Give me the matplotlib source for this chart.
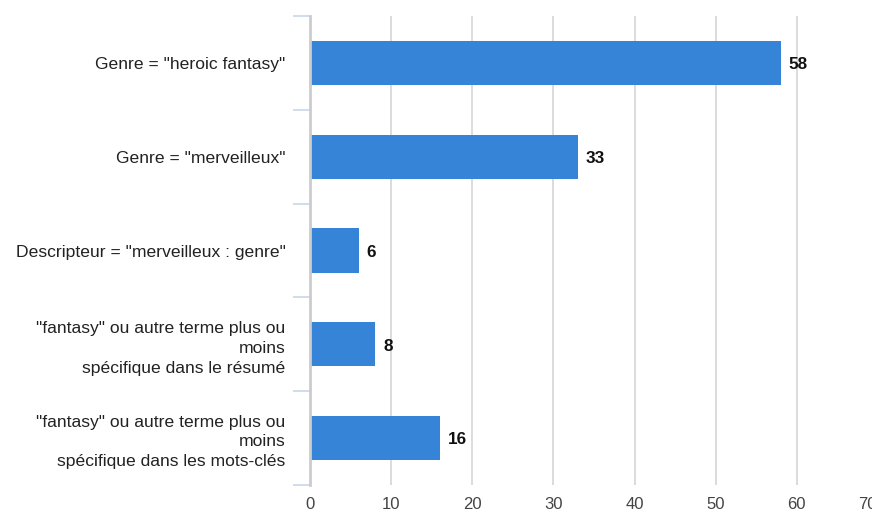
import numpy as np
import matplotlib.pyplot as plt
from matplotlib.transforms import ScaledTranslation

plt.rcParams['font.family'] = ['Liberation Sans', 'DejaVu Sans']

# Data
categories = ['Genre = "heroic fantasy"',
              'Genre = "merveilleux"',
              'Descripteur = "merveilleux : genre"',
              '"fantasy" ou autre terme plus ou\nmoins\nspécifique dans le résumé',
              '"fantasy" ou autre terme plus ou\nmoins\nspécifique dans les mots-clés']
values = [58, 33, 6, 8, 16]
x_ticks = [0, 10, 20, 30, 40, 50, 60, 70]

bar_color = '#3584d8'

fig = plt.figure(figsize=(8.72, 5.13), dpi=100)
ax = fig.add_axes([310 / 872, 1 - 485 / 513, 568 / 872, 469 / 513])

y = np.arange(len(categories))
ax.barh(y, values, height=0.47, color=bar_color, zorder=3)

for yi, v in zip(y, values):
    ax.text(v + 1.0, yi + 0.02, str(v), va='center', ha='left',
            fontsize=12.3, fontweight='bold', color='#111111', zorder=4)

ax.set_xlim(0, 70)
ax.set_ylim(len(categories) - 0.5, -0.5)
ax.set_xticks(x_ticks)
ax.set_xticklabels([str(t) for t in x_ticks], fontsize=12, color='#444444')
ax.tick_params(axis='x', length=0, pad=8.5)
# last label is pulled inward like in the original chart
last = ax.get_xticklabels()[-1]
last.set_transform(last.get_transform() +
                   ScaledTranslation(-11 / 100, 0, fig.dpi_scale_trans))

ax.set_yticks(y)
ax.set_yticklabels(categories, fontsize=12.6, color='#222222',
                   linespacing=1.4, ha='right')
ax.tick_params(axis='y', which='major', length=0, pad=17.5)
ax.set_yticks(np.arange(len(categories) + 1) - 0.5, minor=True)
ax.tick_params(axis='y', which='minor', length=12.5, width=1.2,
               color='#c9d6e6')

ax.grid(axis='x', color='#d9d9d9', linewidth=1.3, zorder=0)
for s in ['top', 'right', 'bottom']:
    ax.spines[s].set_visible(False)
ax.spines['left'].set_color('#cccccc')
ax.spines['left'].set_linewidth(2)
ax.spines['left'].set_zorder(5)

fig.savefig('out.png', dpi=100)
